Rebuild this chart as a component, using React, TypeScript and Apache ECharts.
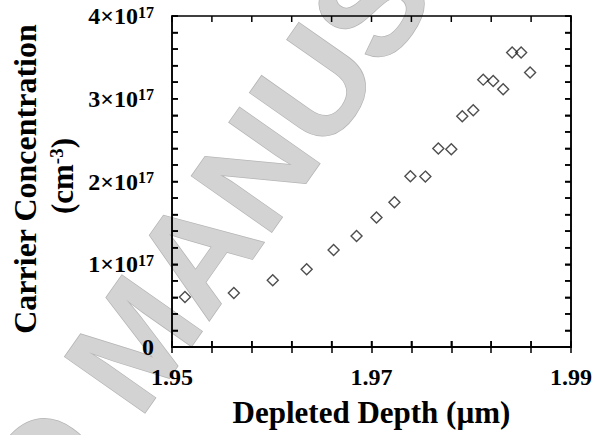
import React, { useEffect, useRef } from "react";
import * as echarts from "echarts";

// Carrier concentration profile vs. depleted depth
const depth = [
  1.9513, 1.9562, 1.9601, 1.9635, 1.9662, 1.9685, 1.9705, 1.9723, 1.9739, 1.9754,
  1.9767, 1.978, 1.9791, 1.9802, 1.9812, 1.9822, 1.9832, 1.9841, 1.985, 1.9859,
];
const concentration = [
  6.04e16, 6.53e16, 8.06e16, 9.39e16, 1.172e17, 1.341e17, 1.564e17, 1.749e17, 2.063e17, 2.059e17,
  2.398e17, 2.389e17, 2.788e17, 2.86e17, 3.231e17, 3.215e17, 3.114e17, 3.558e17, 3.558e17, 3.316e17,
];

const xMin = 1.95;
const xMax = 1.99;
const yMin = 0;
const yMax = 4e17;

const xTickValues = [1.95, 1.954, 1.958, 1.962, 1.966, 1.97, 1.974, 1.978, 1.982, 1.986, 1.99];
const yTickValues = [
  0, 2e16, 4e16, 6e16, 8e16, 1e17, 1.2e17, 1.4e17, 1.6e17, 1.8e17, 2e17,
  2.2e17, 2.4e17, 2.6e17, 2.8e17, 3e17, 3.2e17, 3.4e17, 3.6e17, 3.8e17, 4e17,
];
const xLabelValues = [1.95, 1.97, 1.99];
const yLabelValues = [0, 1e17, 2e17, 3e17, 4e17];
const yExponent = 17;

const serif = '"Liberation Serif", "Times New Roman", serif';
const TICK_LEN = 6;

export default function App() {
  const ref = useRef<HTMLDivElement>(null);

  useEffect(() => {
    if (!ref.current) return;
    const chart = echarts.init(ref.current, null, { renderer: "svg" });

    const tickStyle = { stroke: "#000", lineWidth: 1.5 };
    const line = () => ({ show: true, lineStyle: { color: "#000", width: 1.5 } });
    const ticks = (values: number[]) => ({
      show: true,
      inside: true,
      length: TICK_LEN,
      customValues: values,
      lineStyle: { color: "#000", width: 1.5 },
    });
    const hiddenSplit = () => ({ show: true, lineStyle: { color: "rgba(0,0,0,0)" } });

    chart.setOption({
      animation: false,
      grid: {
        left: 172,
        right: 21,
        top: 16,
        bottom: 88,
        show: true,
        borderColor: "#000",
        borderWidth: 1.5,
        backgroundColor: "rgba(0,0,0,0)",
      },
      xAxis: [
        {
          type: "value",
          min: xMin,
          max: xMax,
          axisLine: line(),
          axisTick: ticks(xTickValues),
          splitLine: hiddenSplit(),
          axisLabel: {
            customValues: xLabelValues,
            margin: 18,
            formatter: (v: number) => v.toFixed(2),
            fontFamily: serif,
            fontWeight: "bold",
            fontSize: 24,
            color: "#000",
          },
          name: "Depleted Depth (\u00b5m)",
          nameLocation: "middle",
          nameGap: 50,
          nameTextStyle: { fontFamily: serif, fontWeight: "bold", fontSize: 31, color: "#000" },
        },
        {
          type: "value",
          min: xMin,
          max: xMax,
          position: "top",
          axisLine: line(),
          axisTick: ticks(xTickValues),
          axisLabel: { show: false },
          splitLine: hiddenSplit(),
        },
      ],
      yAxis: [
        {
          type: "value",
          min: yMin,
          max: yMax,
          axisLine: line(),
          axisTick: ticks(yTickValues),
          splitLine: hiddenSplit(),
          axisLabel: {
            customValues: yLabelValues,
            margin: 18,
            formatter: (v: number) =>
              v === 0 ? "{a|0}" : `{a|${Math.round(v / Math.pow(10, yExponent))}\u00d710}{s|${yExponent}}`,
            rich: {
              a: { fontFamily: serif, fontWeight: "bold", fontSize: 24, color: "#000" },
              s: { fontFamily: serif, fontWeight: "bold", fontSize: 16, color: "#000", verticalAlign: "top" },
            },
          },
        },
        {
          type: "value",
          min: yMin,
          max: yMax,
          position: "right",
          axisLine: line(),
          axisTick: ticks(yTickValues),
          axisLabel: { show: false },
          splitLine: hiddenSplit(),
        },
      ],
      graphic: [
        {
          type: "text",
          silent: true,
          z: -10,
          x: -372,
          y: 1064,
          rotation: (55 * Math.PI) / 180,
          style: {
            text: "ACCEPTED MANUSCRIPT",
            font: 'bold 142px "Liberation Sans", Arial, sans-serif',
            fill: "#d3d3d3",
            stroke: "#b5b5b5",
            lineWidth: 1.5,
            align: "left",
            verticalAlign: "middle",
          },
        },
        {
          type: "text",
          x: 25,
          y: 179,
          rotation: Math.PI / 2,
          style: {
            text: "Carrier Concentration",
            font: `bold 32px ${serif}`,
            fill: "#000",
            align: "center",
            verticalAlign: "middle",
          },
        },
        {
          type: "text",
          x: 62,
          y: 176,
          rotation: Math.PI / 2,
          style: {
            text: "{a|(cm}{s|-3}{a|)}",
            align: "center",
            verticalAlign: "middle",
            rich: {
              a: { fontFamily: serif, fontWeight: "bold", fontSize: 31, fill: "#000", color: "#000" },
              s: {
                fontFamily: serif,
                fontWeight: "bold",
                fontSize: 19,
                fill: "#000",
                color: "#000",
                verticalAlign: "top",
              },
            },
          },
        },
      ],
      series: [
        {
          // inward ticks on the bottom and top edges of the frame
          type: "custom",
          xAxisIndex: 0,
          yAxisIndex: 0,
          silent: true,
          clip: false,
          data: xTickValues.map((v) => [v, yMin]),
          renderItem: (_params: any, api: any) => {
            const v = api.value(0);
            const b = api.coord([v, yMin]);
            const t = api.coord([v, yMax]);
            return {
              type: "group",
              children: [
                { type: "line", shape: { x1: b[0], y1: b[1], x2: b[0], y2: b[1] - TICK_LEN }, style: tickStyle },
                { type: "line", shape: { x1: t[0], y1: t[1], x2: t[0], y2: t[1] + TICK_LEN }, style: tickStyle },
              ],
            };
          },
        },
        {
          // inward ticks on the left and right edges of the frame
          type: "custom",
          xAxisIndex: 0,
          yAxisIndex: 0,
          silent: true,
          clip: false,
          data: yTickValues.map((v) => [xMin, v]),
          renderItem: (_params: any, api: any) => {
            const v = api.value(1);
            const l = api.coord([xMin, v]);
            const r = api.coord([xMax, v]);
            return {
              type: "group",
              children: [
                { type: "line", shape: { x1: l[0], y1: l[1], x2: l[0] + TICK_LEN, y2: l[1] }, style: tickStyle },
                { type: "line", shape: { x1: r[0], y1: r[1], x2: r[0] - TICK_LEN, y2: r[1] }, style: tickStyle },
              ],
            };
          },
        },
        {
          type: "scatter",
          xAxisIndex: 0,
          yAxisIndex: 0,
          symbol: "diamond",
          symbolSize: [11, 11],
          data: depth.map((d, i) => [d, concentration[i]]),
          itemStyle: { color: "rgba(0,0,0,0)", borderColor: "#222", borderWidth: 1.4 },
        },
      ],
    });

    return () => chart.dispose();
  }, []);

  return (
    <div
      ref={ref}
      style={{ position: "fixed", left: 0, top: 0, width: 595, height: 435, background: "#fff" }}
    />
  );
}
